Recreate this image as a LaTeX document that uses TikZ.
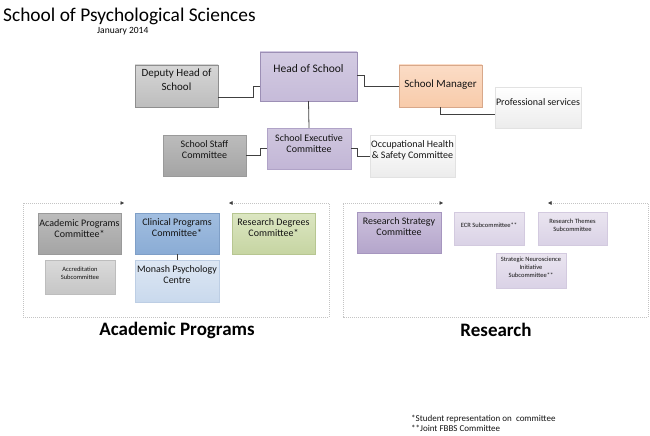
\documentclass[tikz,border=0pt]{standalone}
\usepackage{fontspec}
\setmainfont{Carlito}
\usetikzlibrary{arrows.meta,shadows}

\definecolor{lineclr}{HTML}{404040}
\definecolor{txtclr}{HTML}{141414}
\definecolor{frameclr}{HTML}{C4C4C4}
% box colours: T top, M bottom, B border
\definecolor{HeadT}{HTML}{D3CBE2}\definecolor{HeadM}{HTML}{C6BBD9}\definecolor{HeadB}{HTML}{9C8FB5}
\definecolor{GreyT}{HTML}{D6D6D6}\definecolor{GreyM}{HTML}{BDBDBD}\definecolor{GreyB}{HTML}{8E8E8E}
\definecolor{PeachT}{HTML}{FBDCC6}\definecolor{PeachM}{HTML}{F8CBAA}\definecolor{PeachB}{HTML}{D8A88A}
\definecolor{WhiteM}{HTML}{ECECEC}\definecolor{WhiteB}{HTML}{E2E2E2}
\definecolor{ExecT}{HTML}{D0C7DF}\definecolor{ExecM}{HTML}{C2B6D6}\definecolor{ExecB}{HTML}{B0A3C7}
\definecolor{DarkT}{HTML}{BCBCBC}\definecolor{DarkM}{HTML}{A4A4A4}\definecolor{DarkB}{HTML}{9A9A9A}
\definecolor{BlueT}{HTML}{A2BEE0}\definecolor{BlueM}{HTML}{8AACD5}\definecolor{BlueB}{HTML}{7F9FC7}
\definecolor{GreenT}{HTML}{DCE6C2}\definecolor{GreenM}{HTML}{C6D5A2}\definecolor{GreenB}{HTML}{B7C691}
\definecolor{LightT}{HTML}{DADADA}\definecolor{LightM}{HTML}{C6C6C6}\definecolor{LightB}{HTML}{BDBDBD}
\definecolor{PaleT}{HTML}{DDE7F3}\definecolor{PaleM}{HTML}{C9D9ED}\definecolor{PaleB}{HTML}{BDCEE4}
\definecolor{StratT}{HTML}{CDC2DD}\definecolor{StratM}{HTML}{B4A5CB}\definecolor{StratB}{HTML}{A696BF}
\definecolor{SubT}{HTML}{EAE5F0}\definecolor{SubM}{HTML}{DAD2E6}\definecolor{SubB}{HTML}{D3CADF}

\tikzset{
  box/.style={rectangle, align=center, inner sep=1pt, text=txtclr,
    font=\fontsize{10}{11}\selectfont,
    drop shadow={opacity=.2, shadow xshift=1pt, shadow yshift=-1pt}},
  lift/.style={text depth=#1},
  conn/.style={draw=lineclr, line width=0.8pt},
  frame/.style={draw=frameclr, line width=0.5pt, dash pattern=on 1pt off 1pt},
  small/.style={font=\fontsize{6.5}{7.8}\selectfont},
  biglbl/.style={font=\fontsize{19}{22}\selectfont\bfseries, text=black}
}

\begin{document}
\begin{tikzpicture}[x=1pt, y=-1pt]
  \useasboundingbox (0,0) rectangle (650,436);

  % titles
  \node[anchor=base west, inner sep=0pt, font=\fontsize{19.4}{22}\selectfont] (title) at (3,21.5) {School of Psychological Sciences};
  \node[anchor=base west, inner sep=0pt, font=\fontsize{9.5}{11}\selectfont] (date) at (97,34) {January 2014};

  % top of the school
  \node[box, lift=15pt, minimum width=97, minimum height=49, draw=HeadB,
        top color=HeadT, bottom color=HeadM, font=\fontsize{11.5}{13}\selectfont] (head) at (308.5,76.5) {Head of School};
  \node[box, lift=12pt, minimum width=83, minimum height=42, draw=GreyB,
        top color=GreyT, bottom color=GreyM, font=\fontsize{11}{14}\selectfont] (deputy) at (176.5,86) {Deputy Head of\\School};
  \node[box, lift=5pt, minimum width=83, minimum height=42, draw=PeachB,
        top color=PeachT, bottom color=PeachM, font=\fontsize{11}{13}\selectfont] (manager) at (440.5,86) {School Manager};
  \node[box, lift=11pt, minimum width=84, minimum height=41, draw=WhiteB,
        top color=white, bottom color=WhiteM] (prof) at (538,107.5) {Professional services};
  \node[box, lift=10pt, minimum width=84, minimum height=41, draw=ExecB,
        top color=ExecT, bottom color=ExecM] (exec) at (309,148.5) {School Executive\\Committee};
  \node[box, lift=12pt, minimum width=83, minimum height=41, draw=DarkB,
        top color=DarkT, bottom color=DarkM] (staff) at (204.5,155.5) {School Staff\\Committee};
  \node[box, lift=12pt, minimum width=83, minimum height=42, draw=WhiteB,
        top color=white, bottom color=WhiteM] (ohs) at (412.5,156) {Occupational Health\\\& Safety Committee};

  % connectors
  \draw[conn] ([yshift=-11pt]deputy.east) -- ++(35,0) |- ([yshift=-9.5pt]head.west);
  \draw[conn] ([yshift=1.5pt]head.east) -- ++(7,0) |- (manager.west);
  \draw[conn] (manager.south) |- ([yshift=-6.5pt]prof.west);
  \draw[conn] (head.south) -- (exec.north);
  \draw[conn] (exec.east) -- ++(6,0) |- (ohs.west);
  \draw[conn] (exec.west) -- ++(-6,0) |- (staff.east);

  % frames
  \foreach \l/\r/\a/\b in {23/329/124/229, 343/648/443/548} {
    \draw[frame, {Triangle[length=3.5pt,width=3.5pt,fill=lineclr,lineclr]}-{Triangle[length=3.5pt,width=3.5pt,fill=lineclr,lineclr]}]
      (\a,203) -- (\l,203) -- (\l,317) -- (\r,317) -- (\r,203) -- (\b,203);
  }

  % academic programs
  \node[box, lift=10pt, minimum width=83, minimum height=41, draw=DarkB,
        top color=DarkT, bottom color=DarkM] (acad) at (79.5,233.5) {Academic Programs\\Committee*};
  \node[box, lift=12pt, minimum width=84, minimum height=41, draw=BlueB,
        top color=BlueT, bottom color=BlueM] (clinical) at (177,233.5) {Clinical Programs\\Committee*};
  \node[box, lift=12pt, minimum width=83, minimum height=41, draw=GreenB,
        top color=GreenT, bottom color=GreenM] (resdeg) at (273.5,233.5) {Research Degrees\\Committee*};
  \node[box, small, lift=8pt, minimum width=70, minimum height=34, draw=LightB,
        top color=LightT, bottom color=LightM] (accred) at (80,277) {Accreditation\\Subcommittee};
  \node[box, lift=13pt, minimum width=84, minimum height=42, draw=PaleB,
        top color=PaleT, bottom color=PaleM] (monash) at (177,281) {Monash Psychology\\Centre};
  \draw[conn] (clinical.south) -- (monash.north);
  \node[biglbl] (acadlbl) at (177,330) {Academic Programs};

  % research
  \node[box, lift=11pt, minimum width=84, minimum height=41, draw=StratB,
        top color=StratT, bottom color=StratM] (strat) at (399,232.5) {Research Strategy\\Committee};
  \node[box, small, lift=7pt, minimum width=70, minimum height=33, draw=SubB,
        top color=SubT, bottom color=SubM] (ecr) at (489,228.5) {ECR Subcommittee**};
  \node[box, small, lift=7pt, minimum width=69, minimum height=33, draw=SubB,
        top color=SubT, bottom color=SubM] (themes) at (572.5,228.5) {Research Themes\\Subcommittee};
  \node[box, small, lift=7pt, minimum width=70, minimum height=35, draw=SubB,
        top color=SubT, bottom color=SubM] (sni) at (531,270.5) {Strategic Neuroscience\\Initiative\\Subcommittee**};
  \node[biglbl] (reslbl) at (496,330) {Research};

  % notes
  \node[anchor=north west, align=left, inner sep=0pt, text=txtclr,
        font=\fontsize{9}{10}\selectfont] (notes) at (411,414.5) {*Student representation on\ \ committee\\**Joint FBBS Committee};
\end{tikzpicture}
\end{document}
